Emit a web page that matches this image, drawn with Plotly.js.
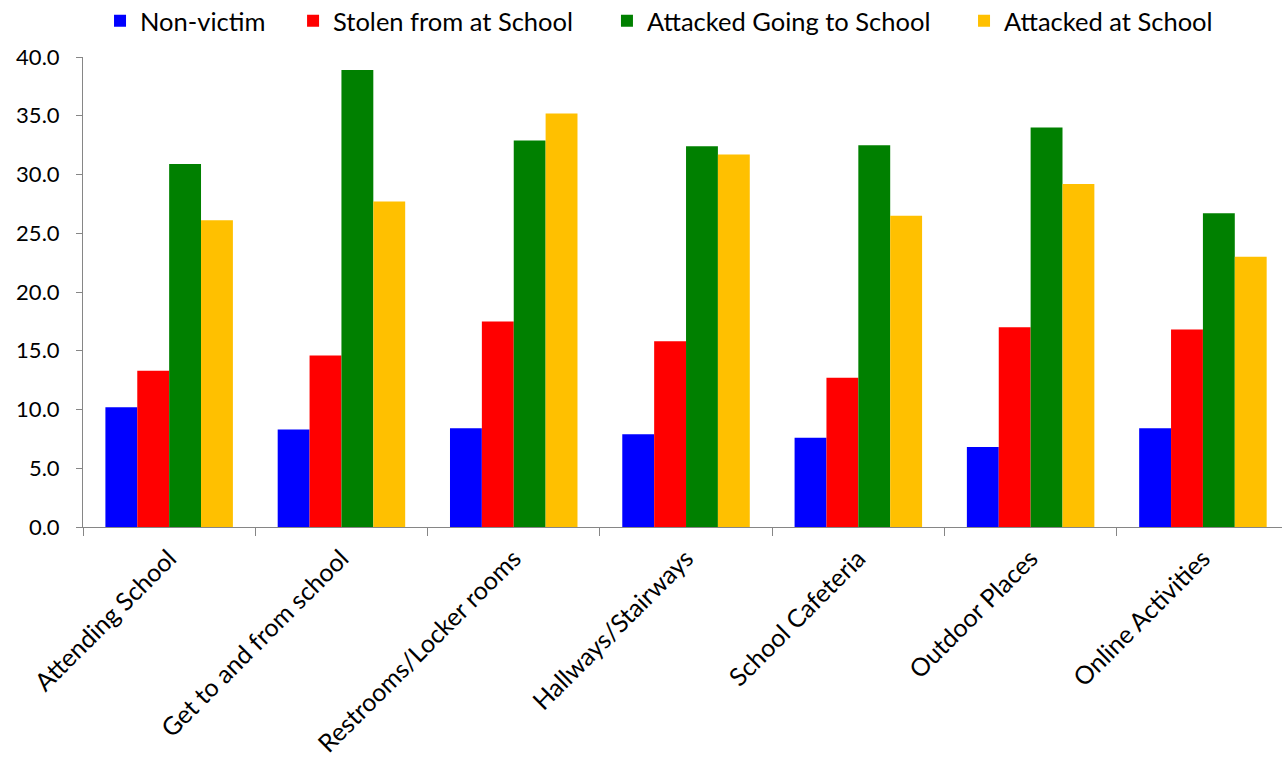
<!DOCTYPE html>
<html>
<head>
<meta charset="utf-8">
<script src="https://cdn.plot.ly/plotly-3.0.1.min.js"></script>
<style>html,body{margin:0;padding:0;background:#fff;overflow:hidden}#chart{width:1282px;height:757px}</style>
</head>
<body>
<div id="chart"></div>
<script>
const categories = ["Attending School", "Get to and from school", "Restrooms/Locker rooms", "Hallways/Stairways", "School Cafeteria", "Outdoor Places", "Online Activities"];
const seriesNames = ["Non-victim", "Stolen from at School", "Attacked Going to School", "Attacked at School"];
const nonVictim = [10.2, 8.3, 8.4, 7.9, 7.6, 6.8, 8.4];
const stolenAtSchool = [13.3, 14.6, 17.5, 15.8, 12.7, 17.0, 16.8];
const attackedGoing = [30.9, 38.9, 32.9, 32.4, 32.5, 34.0, 26.7];
const attackedAtSchool = [26.1, 27.7, 35.2, 31.7, 26.5, 29.2, 23.0];
const yTickVals = [0, 5, 10, 15, 20, 25, 30, 35, 40];
const yTickText = ["0.0", "5.0", "10.0", "15.0", "20.0", "25.0", "30.0", "35.0", "40.0"];

const colors = ["#0000FF", "#FF0000", "#008000", "#FFC000"];
const values = [nonVictim, stolenAtSchool, attackedGoing, attackedAtSchool];
const legendIds = ["legend", "legend2", "legend3", "legend4"];
const legendX = [0.0142, 0.1752, 0.4370, 0.7348];
const font = "Lato, 'Open Sans', sans-serif";

const data = values.map((v, i) => ({
  type: "bar",
  name: seriesNames[i],
  x: categories,
  y: v,
  legend: legendIds[i],
  marker: {color: colors[i], line: {width: 0}},
  hoverinfo: "x+y+name"
}));

const layout = {
  width: 1282,
  height: 757,
  margin: {l: 83, r: 0, t: 57, b: 230, autoexpand: false},
  paper_bgcolor: "#ffffff",
  plot_bgcolor: "#ffffff",
  barmode: "group",
  bargap: 0.26,
  bargroupgap: 0,
  font: {family: font, size: 20, color: "#000000"},
  showlegend: true,
  xaxis: {
    type: "category",
    range: [-0.5, 6.459],
    showline: true,
    linecolor: "#868686",
    linewidth: 1,
    ticks: "outside",
    tickson: "boundaries",
    ticklen: 8,
    tickcolor: "#868686",
    tickangle: -45,
    ticklabelstandoff: 6,
    showgrid: false,
    zeroline: false,
    automargin: false,
    tickfont: {family: font, size: 25, color: "#000000"}
  },
  yaxis: {
    range: [0, 40],
    tickvals: yTickVals,
    ticktext: yTickText,
    showline: true,
    linecolor: "#868686",
    linewidth: 1,
    ticks: "outside",
    ticklen: 6,
    tickcolor: "#868686",
    ticklabelstandoff: 12,
    showgrid: false,
    zeroline: false,
    automargin: false,
    tickfont: {family: font, size: 22, color: "#000000"}
  }
};

legendIds.forEach((id, i) => {
  layout[id] = {
    orientation: "h",
    x: legendX[i], xanchor: "left",
    y: 1.076, yanchor: "middle",
    font: {family: font, size: 25.5, color: "#000000"},
    bgcolor: "rgba(0,0,0,0)"
  };
});

Plotly.newPlot("chart", data, layout, {displayModeBar: false, staticPlot: true});
</script>
</body>
</html>
